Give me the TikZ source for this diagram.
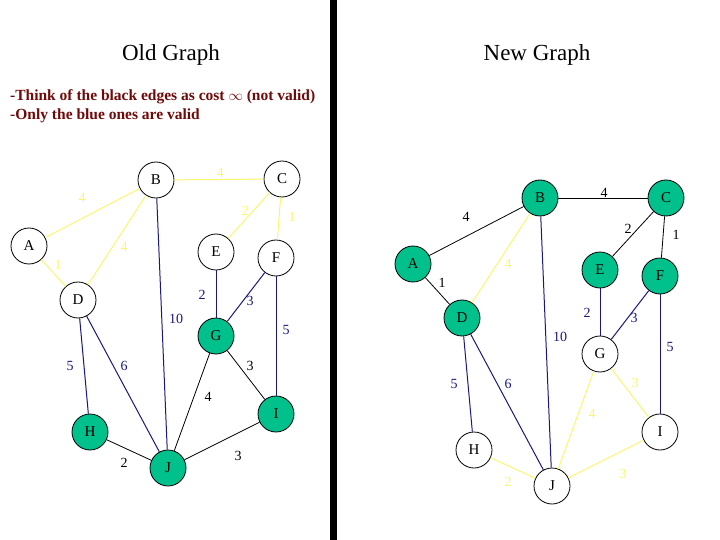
\documentclass[tikz,border=0pt]{standalone}
\usepackage{fontspec}
\setmainfont{Liberation Serif}
\usetikzlibrary{positioning}
\definecolor{vgreen}{RGB}{0,192,140}
\definecolor{pyellow}{RGB}{250,246,110}
\definecolor{navy}{RGB}{25,25,125}
\definecolor{darkred}{RGB}{110,10,10}
\newcommand{\labfont}{\fontsize{14}{14}\selectfont}
\tikzset{
  vertex/.style={circle,draw,line width=0.8pt,minimum size=36pt,inner sep=0pt,font=\fontsize{15}{15}\selectfont},
  done/.style={vertex,fill=vgreen},
  yedge/.style={draw=pyellow,line width=1pt},
  bedge/.style={draw=navy,line width=1pt},
  kedge/.style={draw=black,line width=0.8pt},
  ylab/.style={text=pyellow,font=\labfont,inner sep=0pt},
  blab/.style={text=navy,font=\labfont,inner sep=0pt},
  klab/.style={text=black,font=\labfont,inner sep=0pt},
  title/.style={font=\fontsize{23}{23}\selectfont},
  note/.style={text=darkred,font=\bfseries\fontsize{15.5}{15.5}\selectfont,anchor=base west,inner sep=0pt}
}

\begin{document}
\begin{tikzpicture}[x=1pt,y=-1pt]
    \useasboundingbox (0,0) rectangle (720,540);
    \fill (330,0) rectangle (337,540);

    % titles and note
    \node[title] (oldtitle) at (171,55) {Old Graph};
    \node[title] (newtitle) at (537,55) {New Graph};
    \node[note] (note1) at (10,101) {-Think of the black edges as cost $\infty$ (not valid)};
    \node[note] (note2) at (10,120) {-Only the blue ones are valid};

    % old graph
    \node[vertex] (oa) at (29,246) {A};
    \node[vertex] (ob) at (156,180) {B};
    \node[vertex] (oc) at (282,179) {C};
    \node[vertex] (od) at (78,300) {D};
    \node[vertex] (oe) at (216,252) {E};
    \node[vertex] (of) at (276,258) {F};
    \node[done] (og) at (216,336) {G};
    \node[done] (oh) at (90,432) {H};
    \node[done] (oj) at (168,468) {J};
    \node[done] (oi) at (276,414) {I};

    \draw[yedge] (oa) -- (ob);
    \draw[yedge] (ob) -- (oc);
    \draw[yedge] (ob) -- (od);
    \draw[yedge] (oa) -- (od);
    \draw[yedge] (oc) -- (oe);
    \draw[yedge] (oc) -- (of);
    \draw[bedge] (ob) -- (oj);
    \draw[bedge] (oe) -- (og);
    \draw[bedge] (of) -- (og);
    \draw[bedge] (of) -- (oi);
    \draw[bedge] (od) -- (oh);
    \draw[bedge] (od) -- (oj);
    \draw[kedge] (og) -- (oj);
    \draw[kedge] (og) -- (oi);
    \draw[kedge] (oh) -- (oj);
    \draw[kedge] (oj) -- (oi);

    \node[ylab] (oab) at (82,198) {4};
    \node[ylab] (obc) at (220,173) {4};
    \node[ylab] (obd) at (124,247) {4};
    \node[ylab] (oad) at (58,265) {1};
    \node[ylab] (oce) at (245,211) {2};
    \node[ylab] (ocf) at (292,217) {1};
    \node[blab] (obj) at (176,319) {10};
    \node[blab] (oeg) at (202,295) {2};
    \node[blab] (ofg) at (250,301) {3};
    \node[blab] (ofi) at (286,330) {5};
    \node[blab] (odh) at (70,366) {5};
    \node[blab] (odj) at (124,366) {6};
    \node[klab] (ogj) at (208,397) {4};
    \node[klab] (ogi) at (250,366) {3};
    \node[klab] (ohj) at (124,463) {2};
    \node[klab] (oji) at (238,456) {3};

    % new graph
    \node[done] (na) at (413,264) {A};
    \node[done] (nb) at (540,198) {B};
    \node[done] (nc) at (666,198) {C};
    \node[done] (nd) at (462,318) {D};
    \node[done] (ne) at (600,270) {E};
    \node[done] (nf) at (660,276) {F};
    \node[vertex] (ng) at (600,354) {G};
    \node[vertex] (nh) at (474,450) {H};
    \node[vertex] (nj) at (552,486) {J};
    \node[vertex] (ni) at (660,432) {I};

    \draw[kedge] (na) -- (nb);
    \draw[kedge] (nb) -- (nc);
    \draw[yedge] (nb) -- (nd);
    \draw[kedge] (na) -- (nd);
    \draw[kedge] (nc) -- (ne);
    \draw[kedge] (nc) -- (nf);
    \draw[bedge] (nb) -- (nj);
    \draw[bedge] (ne) -- (ng);
    \draw[bedge] (nf) -- (ng);
    \draw[bedge] (nf) -- (ni);
    \draw[bedge] (nd) -- (nh);
    \draw[bedge] (nd) -- (nj);
    \draw[yedge] (ng) -- (nj);
    \draw[yedge] (ng) -- (ni);
    \draw[yedge] (nh) -- (nj);
    \draw[yedge] (nj) -- (ni);

    \node[klab] (nab) at (466,217) {4};
    \node[klab] (nbc) at (604,193) {4};
    \node[ylab] (nbd) at (508,264) {4};
    \node[klab] (nad) at (442,283) {1};
    \node[klab] (nce) at (628,229) {2};
    \node[klab] (ncf) at (676,235) {1};
    \node[blab] (nbj) at (560,337) {10};
    \node[blab] (neg) at (587,313) {2};
    \node[blab] (nfg) at (634,318) {3};
    \node[blab] (nfi) at (670,347) {5};
    \node[blab] (ndh) at (454,384) {5};
    \node[blab] (ndj) at (508,384) {6};
    \node[ylab] (ngj) at (592,414) {4};
    \node[ylab] (ngi) at (635,383) {3};
    \node[ylab] (nhj) at (508,482) {2};
    \node[ylab] (nji) at (623,474) {3};
\end{tikzpicture}
\end{document}
